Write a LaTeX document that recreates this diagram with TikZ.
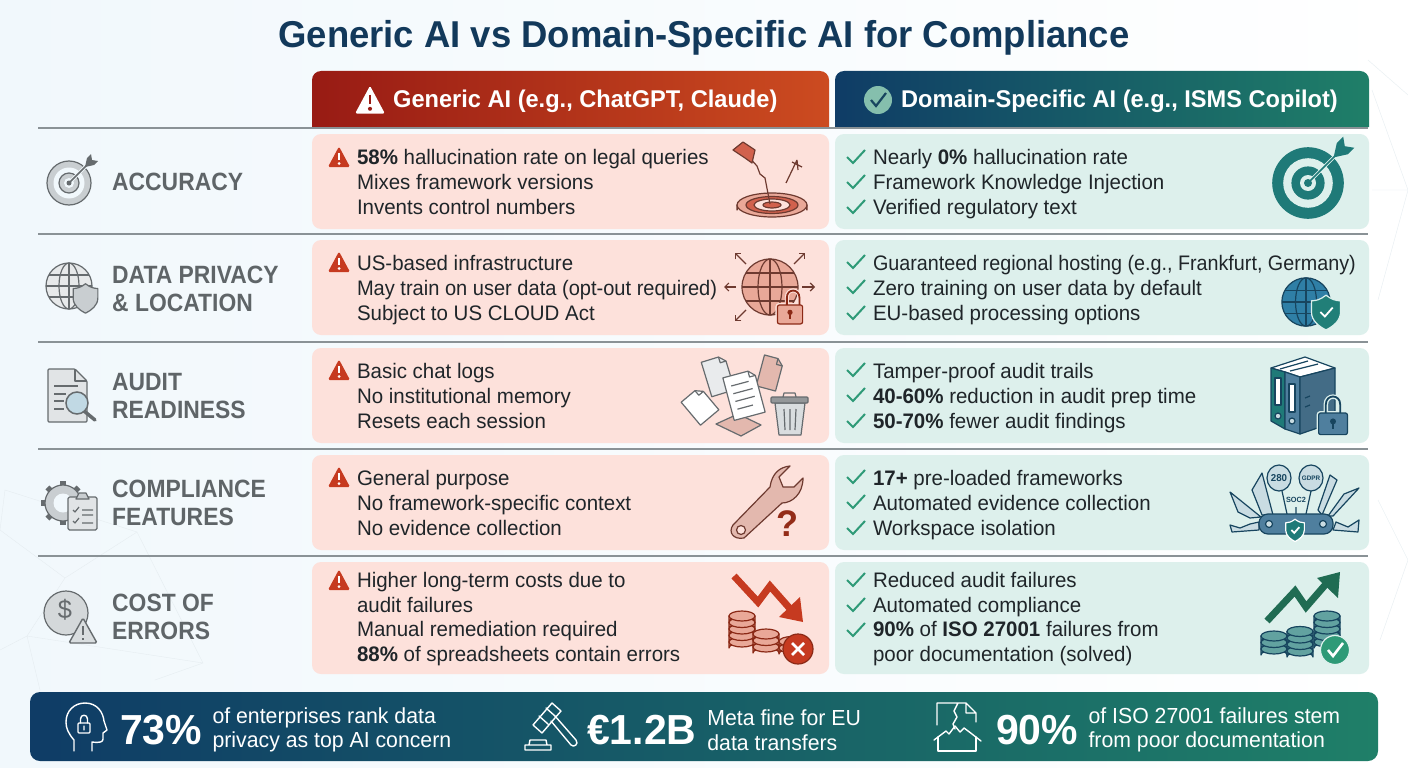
\documentclass[tikz,border=0pt]{standalone}
\usepackage{fontspec}
\setmainfont[FakeStretch=.975]{Liberation Sans}
\newcommand{\squeeze}[2]{{\addfontfeatures{FakeStretch=#1}#2}}
\usepackage{tikz}
\usetikzlibrary{positioning,arrows.meta}
\definecolor{titleblue}{HTML}{12395B}
\definecolor{bgleft}{HTML}{F1F8FC}
\definecolor{netgray}{HTML}{E6EDF1}
\definecolor{hdrredl}{HTML}{981B14}
\definecolor{hdrredr}{HTML}{CC4B20}
\definecolor{hdrbluel}{HTML}{0F3C66}
\definecolor{hdrgreenr}{HTML}{1F7F68}
\definecolor{cellred}{HTML}{FDE1DB}
\definecolor{cellgreen}{HTML}{DDF0EC}
\definecolor{ruleline}{HTML}{8A9296}
\definecolor{labelgray}{HTML}{5F6568}
\definecolor{icongray}{HTML}{666B6E}
\definecolor{iconfill}{HTML}{C9CED1}
\definecolor{txtdark}{HTML}{1F2529}
\definecolor{warnred}{HTML}{C63A20}
\definecolor{checkgreen}{HTML}{2E9A77}
\definecolor{iconteal}{HTML}{1F7A78}
\definecolor{iconblue}{HTML}{2F7FA6}
\definecolor{iconnavy}{HTML}{17455F}
\definecolor{iconbrown}{HTML}{6E3A30}
\definecolor{iconsalmon}{HTML}{E9A898}
\definecolor{iconpink}{HTML}{E3B8AE}
\definecolor{steel}{HTML}{4F7F9E}
\definecolor{paleblade}{HTML}{C9DCE2}
\tikzset{
  hdrtext/.style={inner sep=0pt, anchor=west, text=white, font=\bfseries\fontsize{24.2}{28}\selectfont},
  rowlabel/.style={inner sep=0pt, anchor=west, align=left, text=labelgray, font=\bfseries\addfontfeatures{FakeStretch=.915}\fontsize{25}{28}\selectfont},
  celltext/.style={inner sep=0pt, anchor=west, align=left, text=txtdark, font=\fontsize{21}{25}\selectfont, yshift=-4pt,
                   execute at begin node=\strut, execute at end node=\strut},
  redcell/.style={rectangle, rounded corners=9pt, fill=cellred, minimum width=517pt, inner sep=0pt},
  greencell/.style={rectangle, rounded corners=9pt, fill=cellgreen, minimum width=534pt, inner sep=0pt},
  rowrule/.style={draw=ruleline, line width=1.4pt},
  statbar/.style={rectangle, rounded corners=10pt, left color=hdrbluel, right color=hdrgreenr, minimum width=1348pt, minimum height=69pt, inner sep=0pt},
  statnum/.style={inner sep=0pt, anchor=west, text=white, font=\bfseries\fontsize{42}{44}\selectfont},
  stattext/.style={inner sep=0pt, align=left, text=white, font=\fontsize{21.8}{24.5}\selectfont},
  statline/.style={draw=white, line width=1.4pt, line join=round, line cap=round},
  thin icon/.style={line width=1.2pt, line join=round},
  outarrow/.style={iconbrown, line width=1.2pt, -{Straight Barb[length=4pt,width=8pt]}},
  pics/warnpic/.style 2 args={code={
    \fill[#1, rounded corners=1.5pt] (0,-10.5) -- (11,10) -- (-11,10) -- cycle;
    \draw[#2, line width=2.2pt] (0,-4) -- (0,3);
    \fill[#2] (0,6.5) circle (1.5);
  }},
  pics/checkpic/.style={code={
    \draw[checkgreen, line width=2pt] (-9,0) -- (-3,6) -- (9,-7);
  }},
  pics/targetpic/.style n args={3}{code={
    \draw[#1, fill=#2, thin icon] (0,0) circle (22);
    \fill[#3] (0,0) circle (15.5);
    \draw[#1, fill=#2, thin icon] (0,0) circle (10);
    \fill[#3] (0,0) circle (5);
    \fill[#1] (0,0) circle (2.5);
    \draw[#3, line width=3.5pt] (2,-2) -- (18,-18);
    \draw[#1, line width=1.6pt] (0,0) -- (20,-20);
    \fill[#1] (16,-16) -- (18,-25) -- (22,-29) -- (23,-23) -- (29,-22) -- (25,-18) -- cycle;
  }},
  pics/globepic/.style 2 args={code={
    \draw[#1, fill=#2, thin icon] (0,0) circle (23);
    \draw[#1, thin icon] (0,0) ellipse [x radius=10, y radius=23];
    \draw[#1, thin icon] (0,-23) -- (0,23) (-23,0) -- (23,0) (-20,-11) -- (20,-11) (-20,11) -- (20,11);
  }},
  pics/shieldpic/.style n args={3}{code={
    \draw[#1, fill=#2, thin icon] (0,-15) .. controls (5,-11) and (9,-10) .. (13,-10) -- (13,0)
      .. controls (13,8) and (6,13) .. (0,16) .. controls (-6,13) and (-13,8) .. (-13,0)
      -- (-13,-10) .. controls (-9,-10) and (-5,-11) .. cycle;
    \path[draw=#3, line width=1.8pt] (-5,0) -- (-1,4) -- (6,-4);
  }},
  pics/lockpic/.style n args={3}{code={
    \draw[#1, line width=1.8pt] (-6+#3,0) -- (-6+#3,-7) .. controls (-6+#3,-16) and (6+#3,-16) .. (6+#3,-7) -- (6+#3,0);
    \draw[#1, fill=#2, thin icon, rounded corners=2pt] (-12,0) rectangle (12,18);
    \fill[#1] (0,7) circle (2.5);
    \draw[#1, line width=1.6pt] (0,7) -- (0,13);
  }},
  pics/coinpic/.style n args={3}{code={
    \foreach \i in {1,...,#1} {
      \pgfmathsetmacro\yy{-(\i-1)*6.5}
      \draw[#2, fill=#3, thin icon] (-13,\yy) -- (-13,\yy+6) arc[start angle=180, end angle=360, x radius=13, y radius=5] -- (13,\yy) -- cycle;
      \draw[#2, fill=#3, thin icon] (0,\yy) ellipse [x radius=13, y radius=5];
    }
  }},
  pics/sheetpic/.style n args={3}{code={
    \draw[icongray, fill=#3, thin icon] (-#1,-#2) -- (#1-6,-#2) -- (#1,-#2+6) -- (#1,#2) -- (-#1,#2) -- cycle;
    \draw[icongray, thin icon] (#1-6,-#2) -- (#1-6,-#2+6) -- (#1,-#2+6);
  }},
}

\begin{document}
\begin{tikzpicture}[x=1pt, y=-1pt]
  \useasboundingbox (0,0) rectangle (1408,768);
  \fill[left color=bgleft, right color=white] (0,0) rectangle (1408,768);

  % faint net behind the table
  \draw[netgray] (0,530) -- (5,490) -- (137,532) -- (65,578) -- (0,530) (65,578) -- (27,636) -- (0,650)
    (137,532) -- (203,663) -- (27,636) (203,663) -- (155,680) (27,636) -- (40,690);
  \draw[netgray] (1368,60) -- (1408,95) (1372,90) -- (1408,190) -- (1378,300) (1372,190) -- (1408,190) (1378,500) -- (1408,560) -- (1380,640);

  \node[inner sep=0pt, text=titleblue, font=\bfseries\fontsize{37.4}{40}\selectfont] (title) at (704,38) {Generic AI vs Domain-Specific AI for Compliance};

  % headers
  \path[left color=hdrredl, right color=hdrredr] (312,127) [rounded corners=9pt] -- (312,71) -- (829,71) [sharp corners] -- (829,127) -- cycle;
  \path[left color=hdrbluel, right color=hdrgreenr] (835,127) [rounded corners=9pt] -- (835,71) -- (1369,71) [sharp corners] -- (1369,127) -- cycle;
  \pic[scale=1.35] at (370,100) {warnpic={white}{hdrredl}};
  \node[hdrtext] (hdrgen) at (393,101.5) {Generic AI (e.g., ChatGPT, Claude)};
  \fill[iconfill!30!checkgreen!75!white] (878,100) circle (14);
  \draw[iconnavy, line width=2.2pt] (871,100) -- (876,106) -- (886,93);
  \node[hdrtext] (hdrdom) at (901,101.5) {Domain-Specific AI (e.g., ISMS Copilot)};

  % rules
  \foreach \y in {128,234,342,449,556}
    \draw[rowrule] (38,\y) -- (1368,\y);

  % cells
  \node[redcell, minimum height=95pt] (gen1) at (570.5,181.5) {};
  \node[redcell, minimum height=95pt] (gen2) at (570.5,287.5) {};
  \node[redcell, minimum height=95pt] (gen3) at (570.5,395.5) {};
  \node[redcell, minimum height=95pt] (gen4) at (570.5,502.5) {};
  \node[redcell, minimum height=112pt] (gen5) at (570.5,618) {};
  \node[greencell, minimum height=95pt] (dom1) at (1102,181.5) {};
  \node[greencell, minimum height=95pt] (dom2) at (1102,287.5) {};
  \node[greencell, minimum height=95pt] (dom3) at (1102,395.5) {};
  \node[greencell, minimum height=95pt] (dom4) at (1102,502.5) {};
  \node[greencell, minimum height=112pt] (dom5) at (1102,618) {};

  % row labels
  \node[rowlabel] (lab1) at (112,182) {ACCURACY};
  \node[rowlabel] (lab2) at (112,289) {DATA PRIVACY\\\& LOCATION};
  \node[rowlabel] (lab3) at (112,396) {AUDIT\\READINESS};
  \node[rowlabel] (lab4) at (112,503) {COMPLIANCE\\FEATURES};
  \node[rowlabel] (lab5) at (112,617) {COST OF\\ERRORS};

  % cell texts
  \node[celltext, right=45pt of gen1.west] (txtgen1) {\textbf{58\%} hallucination rate on legal queries\\Mixes framework versions\\Invents control numbers};
  \node[celltext, right=45pt of gen2.west] (txtgen2) {US-based infrastructure\\\squeeze{.955}{May train on user data (opt-out required)}\\Subject to US CLOUD Act};
  \node[celltext, right=45pt of gen3.west] (txtgen3) {Basic chat logs\\No institutional memory\\Resets each session};
  \node[celltext, right=45pt of gen4.west] (txtgen4) {General purpose\\No framework-specific context\\No evidence collection};
  \node[celltext, right=45pt of gen5.west, font=\fontsize{21}{24.5}\selectfont, yshift=1.5pt] (txtgen5) {Higher long-term costs due to\\audit failures\\Manual remediation required\\\textbf{88\%} of spreadsheets contain errors};
  \node[celltext, right=38pt of dom1.west] (txtdom1) {Nearly \textbf{0\%} hallucination rate\\Framework Knowledge Injection\\Verified regulatory text};
  \node[celltext, right=38pt of dom2.west] (txtdom2) {\squeeze{.94}{Guaranteed regional hosting (e.g., Frankfurt, Germany)}\\Zero training on user data by default\\EU-based processing options};
  \node[celltext, right=38pt of dom3.west] (txtdom3) {Tamper-proof audit trails\\\textbf{40-60\%} reduction in audit prep time\\\textbf{50-70\%} fewer audit findings};
  \node[celltext, right=38pt of dom4.west] (txtdom4) {\textbf{17+} pre-loaded frameworks\\Automated evidence collection\\Workspace isolation};
  \node[celltext, right=38pt of dom5.west, font=\fontsize{21}{24.5}\selectfont, yshift=1.5pt] (txtdom5) {Reduced audit failures\\Automated compliance\\\textbf{90\%} of \textbf{ISO 27001} failures from\\poor documentation (solved)};

  \foreach \y in {157,262,370,477,580}
    \pic at (339,\y) {warnpic={warnred}{white}};
  \foreach \y in {157,182,207,262,287,313,370,395,421,477,502,528,580,605,630}
    \pic at (856,\y) {checkpic};

  % left icons
  \pic at (69,183) {targetpic={icongray}{iconfill}{bgleft}};
  \pic at (69,286) {globepic={icongray}{iconfill!45}};
  \pic[scale=.95] at (85.5,298) {shieldpic={icongray}{iconfill}{none}};
  \draw[icongray, fill=iconfill!55, thin icon, rounded corners=1pt] (48,369) -- (75,369) -- (87,381) -- (87,422) -- (48,422) -- cycle;
  \draw[icongray, thin icon] (75,369) -- (75,381) -- (87,381) (54,386) -- (78,386) (54,394) -- (66,394) (54,401) -- (64,401) (54,409) -- (64,409);
  \draw[icongray, line width=3.5pt, line cap=round] (84,411) -- (95,420);
  \draw[icongray, fill=iconblue!30, line width=1.5pt] (77,403) circle (11);
  \foreach \a in {0,45,...,315}
    \draw[icongray, line width=5.5pt] (63,503) ++(\a:17) -- ++(\a:5);
  \draw[icongray, fill=iconfill, thin icon] (63,503) circle (18);
  \fill[bgleft] (63,503) circle (9.5);
  \draw[icongray, fill=iconfill!55, thin icon, rounded corners=1.5pt] (68,497) rectangle (97,530);
  \draw[icongray, fill=iconfill, thin icon] (76,499) -- (79,493) -- (86,493) -- (89,499) -- cycle;
  \draw[icongray, thin icon] (73,510) -- (75,512) -- (79,507) (73,521) -- (75,523) -- (79,518) (82,510) -- (93,510) (82,515) -- (93,515) (82,523) -- (93,523);
  \draw[icongray, fill=iconfill!80, thin icon] (66,613) circle (22);
  \node[inner sep=0pt, text=icongray, font=\fontsize{26}{26}\selectfont] (dollar) at (65,610) {\$};
  \draw[icongray, fill=iconfill!70, line width=1.4pt, rounded corners=1.5pt] (83,618) -- (97,643) -- (69,643) -- cycle;
  \draw[icongray, line width=1.5pt] (83,626) -- (83,635) (83,638) -- (83,640);

  % red column icons
  \draw[iconbrown, fill=warnred!85!white, thin icon] (737,205) -- (737,210) arc[start angle=180, end angle=360, x radius=35, y radius=8] -- (807,205) -- cycle;
  \draw[iconbrown, fill=iconsalmon, thin icon] (772,205) ellipse [x radius=35, y radius=12];
  \draw[iconbrown, fill=warnred!80, thin icon] (772,205) ellipse [x radius=26, y radius=8.5];
  \draw[iconbrown, fill=cellred, thin icon] (772,205) ellipse [x radius=18, y radius=6];
  \draw[iconbrown, fill=warnred!80, thin icon] (772,205) ellipse [x radius=9, y radius=3];
  \draw[iconbrown, line width=1.2pt] (770,204) -- (765,178) -- (760,174) -- (757,166) -- (747,155);
  \draw[iconbrown, fill=warnred!80!white, thin icon] (743,142) -- (733,150) -- (745,158) -- (752,163) -- (755,150) -- cycle;
  \draw[iconbrown, line width=1.2pt] (786,183) -- (797,160) (792,162) -- (802,167) (797,160) -- (798,170);
  \draw[iconbrown, fill=iconsalmon, thin icon] (770,287) ellipse [x radius=28, y radius=28];
  \draw[iconbrown, thin icon] (770,287) ellipse [x radius=12, y radius=28];
  \draw[iconbrown, thin icon] (770,259) -- (770,315) (742,287) -- (798,287) (746,273) -- (794,273) (746,301) -- (794,301);
  \draw[outarrow] (746,264) -- (735,253);
  \draw[outarrow] (794,264) -- (805,253);
  \draw[outarrow] (736,287) -- (724,287);
  \draw[outarrow] (802,287) -- (815,287);
  \draw[outarrow] (746,310) -- (735,321);
  \draw[cellred, line width=4pt] (786.85,305) -- (786.85,297.6) .. controls (786.85,288) and (799.45,288) .. (799.45,297.6) -- (799.45,305);
  \draw[cellred, line width=4pt, rounded corners=2pt] (777.4,305) rectangle (802.6,323.9);
  \pic[scale=1.05] at (790,305) {lockpic={warnred!70!black}{iconsalmon}{3}};
  \pic[rotate=40] at (700,406) {sheetpic={12}{15}{white}};
  \pic[rotate=17] at (718,376) {sheetpic={12}{18}{iconfill!40}};
  \pic[rotate=-15] at (770,373) {sheetpic={10}{16}{iconpink}};
  \draw[icongray, fill=iconpink, thin icon] (716,424) -- (738,414) -- (761,425) -- (741,436) -- cycle;
  \pic[rotate=15] at (744,395) {sheetpic={16}{22}{white}};
  \draw[icongray, thin icon, rotate around={15:(744,395)}] (734,383) -- (752,383) (734,391) -- (754,391) (734,399) -- (754,399) (734,407) -- (750,407);
  \draw[icongray, fill=iconfill!70, thin icon] (775,403) -- (779,435) -- (801,435) -- (805,403) -- cycle;
  \draw[icongray, fill=icongray!70, thin icon, rounded corners=1pt] (771,397) rectangle (808,403);
  \draw[icongray, thin icon] (783,397) -- (784,393) -- (795,393) -- (796,397) (784,409) -- (785,430) (790,409) -- (790,430) (796,409) -- (795,430);
  \draw[iconbrown, fill=iconpink, thin icon] (790,466) .. controls (780,467) and (772,473) .. (770,487) -- (733,525) .. controls (728,532) and (733,540) .. (744,538) -- (782,503) .. controls (792,503) and (803,494) .. (803,478) -- (794,487) -- (783,487) -- (779,477) -- cycle;
  \draw[iconbrown, fill=cellred, thin icon] (741,530) circle (4.5);
  \node[inner sep=0pt, text=warnred!75!black, font=\bfseries\fontsize{37}{37}\selectfont] (qmark) at (788,524) {?};
  \foreach \x/\y/\n in {742/642/5, 792/648/2, 766/647/3}
    \pic at (\x,\y) {coinpic={\n}{warnred!70!black}{iconsalmon}};
  \draw[warnred, line width=7pt] (734,576) -- (758,602) -- (770,586) -- (793,612);
  \fill[warnred] (803,622) -- (779,617) -- (800,597) -- cycle;
  \draw[warnred!70!black, fill=warnred, thin icon] (798,649) circle (15);
  \draw[white, line width=2.6pt] (792,643) -- (804,655) (804,643) -- (792,655);

  % green column icons
  \pic[scale=1.6] at (1308,183) {targetpic={iconteal}{iconteal}{cellgreen}};
  \pic[scale=1.05] at (1306,302) {globepic={iconnavy}{iconblue}};
  \pic[scale=1.12] at (1326,312) {shieldpic={cellgreen}{iconteal!85!checkgreen}{white}};
  \draw[iconnavy, fill=white, thin icon] (1271,368) -- (1305,357) -- (1335,368) -- (1300,377) -- (1285,372) -- cycle;
  \draw[iconnavy, thin icon] (1280,369) -- (1308,361) (1290,371) -- (1318,364);
  \draw[iconnavy, fill=iconteal, thin icon] (1271,368) -- (1285,372) -- (1285,429) -- (1271,421) -- cycle;
  \draw[iconnavy, fill=steel, thin icon] (1285,372) -- (1300,377) -- (1300,434) -- (1285,429) -- cycle;
  \draw[iconnavy, fill=steel!85!black, thin icon] (1300,377) -- (1335,368) -- (1335,422) -- (1300,434) -- cycle;
  \draw[iconnavy, fill=white, thin icon] (1275,378) rectangle (1281,405);
  \draw[iconnavy, fill=white, thin icon] (1289,384) rectangle (1295,412);
  \draw[iconnavy, fill=paleblade, thin icon] (1278,416) circle (3) (1292,421) circle (3);
  \draw[iconnavy, thin icon] (1305,398) -- (1310,396) (1305,407) -- (1310,405);
  \draw[cellgreen, line width=4.5pt] (1325.8,413) -- (1325.8,404.6) .. controls (1325.8,394) and (1340.2,394) .. (1340.2,404.6) -- (1340.2,413);
  \draw[cellgreen, line width=4pt, rounded corners=2pt] (1318.6,413) rectangle (1347.4,434.6);
  \pic[scale=1.2] at (1333,413) {lockpic={iconnavy}{steel}{0}};
  \draw[iconnavy, fill=paleblade, thin icon] (1273,515) -- (1262,473) -- (1252,490) -- (1262,515) -- cycle;
  \draw[iconnavy, fill=paleblade, thin icon] (1261,517) -- (1230,492) -- (1238,512) -- (1250,518) -- cycle;
  \draw[iconnavy, fill=paleblade, thin icon] (1333,516) -- (1359,488) -- (1344,494) -- (1328,516) -- cycle;
  \draw[iconnavy, fill=paleblade, thin icon] (1322,515) -- (1337,480) -- (1330,475) -- (1318,510) -- cycle;
  \draw[iconnavy, fill=paleblade, thin icon] (1259,530) -- (1232,532) -- (1230,525) -- (1240,528) -- (1250,524) -- (1259,522) -- cycle;
  \draw[iconnavy, fill=paleblade, thin icon] (1333,530) -- (1358,532) -- (1359,520) -- (1348,527) -- (1336,522) -- cycle;
  \draw[iconnavy, thin icon] (1282,491) -- (1287,514) (1311,491) -- (1306,514) (1296,507) -- (1296,514);
  \draw[iconnavy, fill=paleblade, thin icon] (1279,478) ellipse [x radius=12, y radius=13];
  \draw[iconnavy, fill=paleblade, thin icon] (1311,478) ellipse [x radius=12, y radius=13];
  \node[inner sep=0pt, text=iconnavy, font=\bfseries\fontsize{10}{10}\selectfont] (t280) at (1279,478) {280};
  \node[inner sep=0pt, text=iconnavy, font=\bfseries\fontsize{6.5}{7}\selectfont] (tgdpr) at (1311,478) {GDPR};
  \node[inner sep=0pt, text=iconnavy, font=\bfseries\fontsize{7.5}{8}\selectfont] (tsoc) at (1296,500) {SOC2};
  \draw[iconnavy, fill=steel, thin icon, rounded corners=9pt] (1259,514) rectangle (1333,534);
  \draw[iconnavy, fill=paleblade, thin icon] (1269,524) circle (3.5) (1323,524) circle (3.5);
  \pic[scale=.72] at (1295,530) {shieldpic={white}{iconteal}{white}};
  \foreach \x/\y/\n in {1327/642/5, 1300/651/4, 1274/649/3}
    \pic at (\x,\y) {coinpic={\n}{iconnavy}{iconteal!70!white}};
  \draw[checkgreen!70!black, line width=7pt] (1267,621) -- (1295,591) -- (1306,607) -- (1326,584);
  \fill[checkgreen!70!black] (1340,572) -- (1317,578) -- (1338,598) -- cycle;
  \draw[cellgreen, fill=checkgreen, thin icon] (1335,650) circle (14.5);
  \draw[white, line width=2.6pt] (1328,650) -- (1333,656) -- (1343,643);

  % stat bar
  \node[statbar] (bar) at (704,726.5) {};
  \node[statnum] (stat1) at (120,730) {73\%};
  \node[stattext, right=10pt of stat1.east] (txt1) {of enterprises rank data\\privacy as top AI concern};
  \node[statnum] (stat2) at (587,730) {€1.2B};
  \node[stattext, right=10.5pt of stat2.east] (txt2) {Meta fine for EU\\data transfers};
  \node[statnum] (stat3) at (996,730) {90\%};
  \node[stattext, right=10pt of stat3.east] (txt3) {of ISO 27001 failures stem\\from poor documentation};
  \draw[statline] (74,751) -- (74,740) .. controls (68,733) and (66,728) .. (66,722) .. controls (66,711) and (74,703) .. (85,703) .. controls (97,703) and (103,712) .. (104,721) -- (107,730) -- (103,733) -- (103,739) .. controls (103,742) and (100,743) .. (92,742) -- (92,751);
  \draw[statline, rounded corners=1pt] (78,723) rectangle (90,733);
  \draw[statline] (80.5,723) -- (80.5,719) .. controls (80.5,714) and (87.5,714) .. (87.5,719) -- (87.5,723) (84,726) -- (84,730);
  \draw[statline] (552,703) -- (561,711) -- (542,733) -- (533,725) -- cycle (546,708) -- (555,716) (539,716) -- (548,724);
  \draw[statline] (551,721) -- (571,745) .. controls (574,748) and (579,744) .. (576,740) -- (555,716);
  \draw[statline] (525,750) -- (551,750) -- (551,745) -- (525,745) -- cycle (529,745) -- (530,740) -- (546,740) -- (547,745);
  \draw[statline] (937,725) -- (937,703) -- (966,703) -- (976,713) -- (976,722) (966,703) -- (966,713) -- (976,713)
    (958,703) -- (954,711) -- (957,717) -- (953,724) -- (955,729);
  \draw[statline] (934,740) -- (946,731) -- (949,734) -- (955,726) -- (960,732) -- (964,728) -- (972,734) -- (981,741);
  \draw[statline] (938,737) -- (938,751) -- (976,751) -- (976,737);
\end{tikzpicture}
\end{document}
